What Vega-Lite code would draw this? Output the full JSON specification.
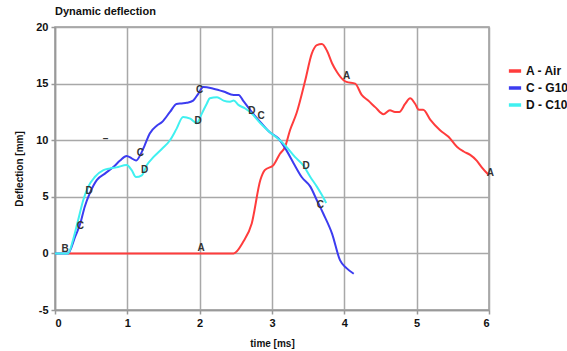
{
  "$schema": "https://vega.github.io/schema/vega-lite/v6.json",
  "width": 434,
  "height": 283,
  "autosize": {"type": "none"},
  "padding": {"left": 55, "top": 27, "right": 78, "bottom": 41},
  "background": "white",
  "config": {
    "font": "Liberation Sans",
    "view": {"stroke": "#999999", "strokeWidth": 1.5}
  },
  "title": {
    "text": "Dynamic deflection",
    "anchor": "start",
    "frame": "group",
    "fontSize": 11,
    "fontWeight": "bold",
    "color": "#111111",
    "offset": 4,
    "font": "Liberation Sans"
  },
  "datasets": {
    "curves": [
      {"series": "A - Air", "t": 0.18, "d": 0},
      {"series": "A - Air", "t": 2.47, "d": 0},
      {"series": "A - Air", "t": 2.6, "d": 1.0},
      {"series": "A - Air", "t": 2.72, "d": 2.65},
      {"series": "A - Air", "t": 2.84, "d": 6.5},
      {"series": "A - Air", "t": 2.9, "d": 7.35},
      {"series": "A - Air", "t": 3.02, "d": 7.8},
      {"series": "A - Air", "t": 3.11, "d": 8.8},
      {"series": "A - Air", "t": 3.18, "d": 9.4},
      {"series": "A - Air", "t": 3.25, "d": 10.9},
      {"series": "A - Air", "t": 3.34, "d": 12.4},
      {"series": "A - Air", "t": 3.46, "d": 15.3},
      {"series": "A - Air", "t": 3.55, "d": 17.65},
      {"series": "A - Air", "t": 3.62, "d": 18.4},
      {"series": "A - Air", "t": 3.69, "d": 18.5},
      {"series": "A - Air", "t": 3.76, "d": 17.9},
      {"series": "A - Air", "t": 3.83, "d": 16.8},
      {"series": "A - Air", "t": 3.9, "d": 16.0},
      {"series": "A - Air", "t": 3.99, "d": 15.3},
      {"series": "A - Air", "t": 4.03, "d": 15.15},
      {"series": "A - Air", "t": 4.15, "d": 15.0},
      {"series": "A - Air", "t": 4.24, "d": 14.0},
      {"series": "A - Air", "t": 4.33, "d": 13.5},
      {"series": "A - Air", "t": 4.43, "d": 12.9},
      {"series": "A - Air", "t": 4.54, "d": 12.3},
      {"series": "A - Air", "t": 4.63, "d": 12.65},
      {"series": "A - Air", "t": 4.7, "d": 12.5},
      {"series": "A - Air", "t": 4.76, "d": 12.5},
      {"series": "A - Air", "t": 4.84, "d": 13.2},
      {"series": "A - Air", "t": 4.91, "d": 13.7},
      {"series": "A - Air", "t": 4.98, "d": 13.2},
      {"series": "A - Air", "t": 5.03, "d": 12.7},
      {"series": "A - Air", "t": 5.09, "d": 12.7},
      {"series": "A - Air", "t": 5.19, "d": 11.8},
      {"series": "A - Air", "t": 5.32, "d": 10.9},
      {"series": "A - Air", "t": 5.44, "d": 10.3},
      {"series": "A - Air", "t": 5.56, "d": 9.4},
      {"series": "A - Air", "t": 5.65, "d": 9.0},
      {"series": "A - Air", "t": 5.74, "d": 8.7},
      {"series": "A - Air", "t": 5.83, "d": 8.2},
      {"series": "A - Air", "t": 5.9, "d": 7.6},
      {"series": "A - Air", "t": 6.0, "d": 6.9},

      {"series": "C - G10", "t": 0.0, "d": 0},
      {"series": "C - G10", "t": 0.18, "d": 0},
      {"series": "C - G10", "t": 0.28, "d": 1.5},
      {"series": "C - G10", "t": 0.35, "d": 2.65},
      {"series": "C - G10", "t": 0.41, "d": 4.1},
      {"series": "C - G10", "t": 0.48, "d": 5.3},
      {"series": "C - G10", "t": 0.58, "d": 6.5},
      {"series": "C - G10", "t": 0.69, "d": 7.05},
      {"series": "C - G10", "t": 0.81, "d": 7.65},
      {"series": "C - G10", "t": 0.9, "d": 8.2},
      {"series": "C - G10", "t": 0.99, "d": 8.6},
      {"series": "C - G10", "t": 1.06, "d": 8.4},
      {"series": "C - G10", "t": 1.12, "d": 8.2},
      {"series": "C - G10", "t": 1.18, "d": 8.7},
      {"series": "C - G10", "t": 1.24, "d": 9.55},
      {"series": "C - G10", "t": 1.31, "d": 10.6},
      {"series": "C - G10", "t": 1.41, "d": 11.3},
      {"series": "C - G10", "t": 1.48, "d": 11.6},
      {"series": "C - G10", "t": 1.59, "d": 12.5},
      {"series": "C - G10", "t": 1.68, "d": 13.2},
      {"series": "C - G10", "t": 1.75, "d": 13.25},
      {"series": "C - G10", "t": 1.82, "d": 13.3},
      {"series": "C - G10", "t": 1.91, "d": 13.5},
      {"series": "C - G10", "t": 1.98, "d": 14.1},
      {"series": "C - G10", "t": 2.05, "d": 14.7},
      {"series": "C - G10", "t": 2.19, "d": 14.55},
      {"series": "C - G10", "t": 2.33, "d": 14.3},
      {"series": "C - G10", "t": 2.47, "d": 14.0},
      {"series": "C - G10", "t": 2.54, "d": 14.0},
      {"series": "C - G10", "t": 2.6, "d": 13.5},
      {"series": "C - G10", "t": 2.7, "d": 12.65},
      {"series": "C - G10", "t": 2.84, "d": 11.6},
      {"series": "C - G10", "t": 2.97, "d": 10.7},
      {"series": "C - G10", "t": 3.09, "d": 10.15},
      {"series": "C - G10", "t": 3.2, "d": 9.1},
      {"series": "C - G10", "t": 3.3, "d": 7.95},
      {"series": "C - G10", "t": 3.41, "d": 6.75},
      {"series": "C - G10", "t": 3.53, "d": 5.9},
      {"series": "C - G10", "t": 3.62, "d": 4.7},
      {"series": "C - G10", "t": 3.71, "d": 3.5},
      {"series": "C - G10", "t": 3.83, "d": 1.75},
      {"series": "C - G10", "t": 3.94, "d": -0.6},
      {"series": "C - G10", "t": 4.03, "d": -1.3},
      {"series": "C - G10", "t": 4.13, "d": -1.8},

      {"series": "D - C10", "t": 0.0, "d": 0},
      {"series": "D - C10", "t": 0.18, "d": 0},
      {"series": "D - C10", "t": 0.25, "d": 1.2},
      {"series": "D - C10", "t": 0.32, "d": 2.95},
      {"series": "D - C10", "t": 0.39, "d": 4.7},
      {"series": "D - C10", "t": 0.46, "d": 5.9},
      {"series": "D - C10", "t": 0.55, "d": 6.75},
      {"series": "D - C10", "t": 0.67, "d": 7.35},
      {"series": "D - C10", "t": 0.76, "d": 7.5},
      {"series": "D - C10", "t": 0.85, "d": 7.6},
      {"series": "D - C10", "t": 0.99, "d": 7.8},
      {"series": "D - C10", "t": 1.06, "d": 7.35},
      {"series": "D - C10", "t": 1.12, "d": 6.75},
      {"series": "D - C10", "t": 1.2, "d": 6.9},
      {"series": "D - C10", "t": 1.27, "d": 7.8},
      {"series": "D - C10", "t": 1.36, "d": 8.5},
      {"series": "D - C10", "t": 1.48, "d": 9.25},
      {"series": "D - C10", "t": 1.59, "d": 10.0},
      {"series": "D - C10", "t": 1.68, "d": 11.0},
      {"series": "D - C10", "t": 1.77, "d": 12.05},
      {"series": "D - C10", "t": 1.87, "d": 11.9},
      {"series": "D - C10", "t": 1.96, "d": 11.5},
      {"series": "D - C10", "t": 2.03, "d": 12.35},
      {"series": "D - C10", "t": 2.1, "d": 13.25},
      {"series": "D - C10", "t": 2.14, "d": 13.7},
      {"series": "D - C10", "t": 2.24, "d": 13.8},
      {"series": "D - C10", "t": 2.33, "d": 13.5},
      {"series": "D - C10", "t": 2.42, "d": 13.4},
      {"series": "D - C10", "t": 2.47, "d": 13.5},
      {"series": "D - C10", "t": 2.54, "d": 13.1},
      {"series": "D - C10", "t": 2.63, "d": 12.8},
      {"series": "D - C10", "t": 2.72, "d": 12.35},
      {"series": "D - C10", "t": 2.84, "d": 11.5},
      {"series": "D - C10", "t": 2.97, "d": 10.7},
      {"series": "D - C10", "t": 3.11, "d": 10.0},
      {"series": "D - C10", "t": 3.2, "d": 9.4},
      {"series": "D - C10", "t": 3.32, "d": 8.5},
      {"series": "D - C10", "t": 3.43, "d": 7.8},
      {"series": "D - C10", "t": 3.53, "d": 6.75},
      {"series": "D - C10", "t": 3.62, "d": 5.9},
      {"series": "D - C10", "t": 3.69, "d": 5.15},
      {"series": "D - C10", "t": 3.75, "d": 4.45}
    ],
    "marks": [
      {"label": "B", "t": 0.14, "d": 0.35},
      {"label": "C", "t": 0.35, "d": 2.4},
      {"label": "D", "t": 0.47, "d": 5.5},
      {"label": "C", "t": 1.18, "d": 8.9},
      {"label": "D", "t": 1.24, "d": 7.35},
      {"label": "C", "t": 2.0, "d": 14.4},
      {"label": "D", "t": 1.98, "d": 11.7},
      {"label": "A", "t": 2.02, "d": 0.45},
      {"label": "D", "t": 2.72, "d": 12.6},
      {"label": "C", "t": 2.85, "d": 12.1},
      {"label": "D", "t": 3.47, "d": 7.7},
      {"label": "C", "t": 3.67, "d": 4.3},
      {"label": "A", "t": 4.03, "d": 15.7},
      {"label": "A", "t": 6.02, "d": 7.1},
      {"label": "–", "t": 0.7, "d": 10.1}
    ]
  },
  "layer": [
    {
      "data": {"name": "curves"},
      "mark": {"type": "line", "strokeWidth": 2, "interpolate": "monotone"},
      "encoding": {
        "x": {
          "field": "t",
          "type": "quantitative",
          "scale": {"domain": [0, 6], "nice": false, "zero": false},
          "axis": {
            "title": "time [ms]",
            "titleFontSize": 10,
            "titleFontWeight": "bold",
            "titleColor": "#111111",
            "titlePadding": 10,
            "values": [0, 0.5, 1, 1.5, 2, 2.5, 3, 3.5, 4, 4.5, 5, 5.5, 6],
            "labelExpr": "datum.value % 1 === 0 ? '' + datum.value : ''",
            "labelFontSize": 11,
            "labelFontWeight": "bold",
            "labelColor": "#111111",
            "labelPadding": 3,
            "tickSize": {"condition": {"test": "datum.value % 1 !== 0", "value": -3}, "value": 4},
            "tickColor": "#999999",
            "tickWidth": 1.5,
            "domainColor": "#999999",
            "domainWidth": 1.5,
            "grid": true,
            "gridColor": "#a8a8a8",
            "gridWidth": 1.5,
            "gridOpacity": {"condition": {"test": "datum.value % 1 !== 0", "value": 0}, "value": 1}
          }
        },
        "y": {
          "field": "d",
          "type": "quantitative",
          "scale": {"domain": [-5, 20], "nice": false, "zero": false},
          "axis": {
            "title": "Deflection [mm]",
            "titleFontSize": 10,
            "titleFontWeight": "bold",
            "titleColor": "#111111",
            "titlePadding": 11,
            "values": [-5, -2.5, 0, 2.5, 5, 7.5, 10, 12.5, 15, 17.5, 20],
            "labelExpr": "datum.value % 5 === 0 ? '' + datum.value : ''",
            "labelFontSize": 11,
            "labelFontWeight": "bold",
            "labelColor": "#111111",
            "labelPadding": 3,
            "tickSize": {"condition": {"test": "datum.value % 5 !== 0", "value": -3}, "value": 4},
            "tickColor": "#999999",
            "tickWidth": 1.5,
            "domainColor": "#999999",
            "domainWidth": 1.5,
            "grid": true,
            "gridColor": "#a8a8a8",
            "gridWidth": 1.5,
            "gridOpacity": {"condition": {"test": "datum.value % 5 !== 0", "value": 0}, "value": 1}
          }
        },
        "color": {
          "field": "series",
          "type": "nominal",
          "scale": {
            "domain": ["A - Air", "C - G10", "D - C10"],
            "range": ["#ff3c3c", "#3c3cf0", "#40f0f0"]
          },
          "legend": {
            "title": null,
            "orient": "none",
            "legendX": 452,
            "legendY": 36,
            "symbolType": "stroke",
            "symbolStrokeWidth": 3.5,
            "symbolSize": 150,
            "labelFontSize": 12,
            "labelFontWeight": "bold",
            "labelColor": "#111111",
            "labelOffset": 3,
            "rowPadding": 2
          }
        }
      }
    },
    {
      "data": {"name": "marks"},
      "mark": {"type": "text", "fontSize": 10, "fontWeight": "bold", "color": "#333333", "font": "Liberation Sans"},
      "encoding": {
        "x": {"field": "t", "type": "quantitative"},
        "y": {"field": "d", "type": "quantitative"},
        "text": {"field": "label"}
      }
    }
  ]
}
